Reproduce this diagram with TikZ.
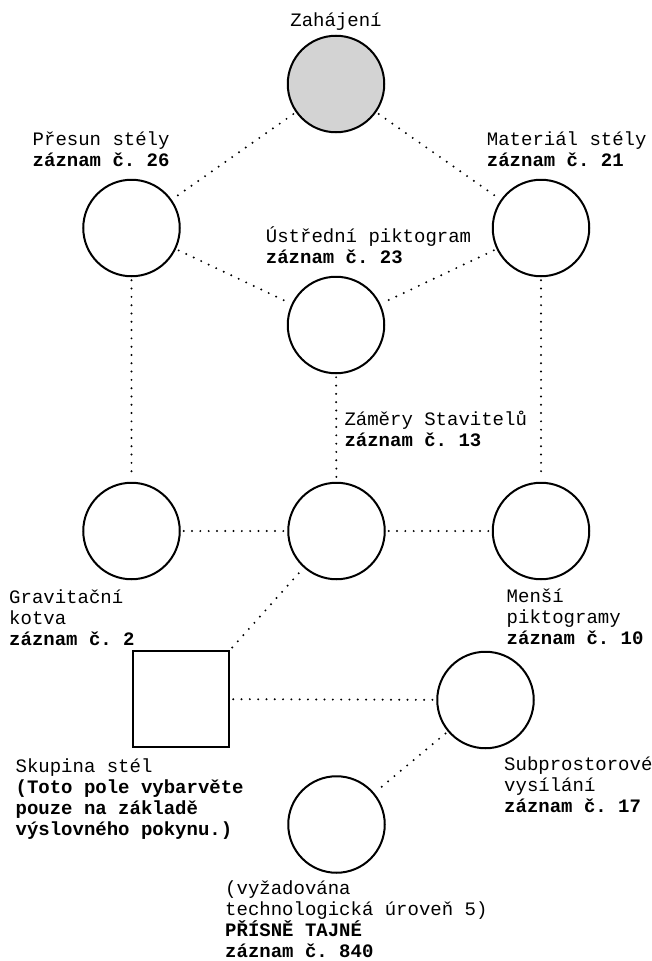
\documentclass[tikz,border=0pt]{standalone}
\usepackage{fontspec}
\setmonofont{Liberation Mono}
\definecolor{startgray}{RGB}{211,211,211}

\begin{document}
\begin{tikzpicture}[x=1pt, y=-1pt,
roundnode/.style={circle, draw=black, line width=2pt, minimum size=96.5pt, inner sep=0pt},
squarednode/.style={rectangle, draw=black, line width=2pt, minimum size=96.5pt, inner sep=0pt},
textnode/.style={anchor=base west, align=left, inner sep=0pt, font=\ttfamily\fontsize{19}{21}\selectfont},
dotline/.style={line width=2.2pt, line cap=round, dash pattern=on 0pt off 8.3pt, shorten <=3pt, shorten >=3pt},
]
\useasboundingbox (0,0) rectangle (652,961);

%Nodes
\node[roundnode, fill=startgray] (start) at (336,84) {};
\node[roundnode] (presun) at (131.5,228) {};
\node[roundnode] (material) at (541,228) {};
\node[roundnode] (ustredni) at (336,325) {};
\node[roundnode] (gravitacni) at (131.5,531) {};
\node[roundnode] (zamery) at (336.5,531) {};
\node[roundnode] (mensi) at (541,531) {};
\node[squarednode] (skupina) at (181,699) {};
\node[roundnode] (subprostor) at (485.5,700) {};
\node[roundnode] (tajne) at (336.5,824.5) {};

%Labels (base = last line)
\node[textnode, anchor=base] (startlabel) at (336,26.7) {Zahájení};
\node[textnode] (presunlabel) at (32.5,166) {Přesun stély\\\textbf{záznam č. 26}};
\node[textnode] (materiallabel) at (486.7,166) {Materiál stély\\\textbf{záznam č. 21}};
\node[textnode] (ustrednilabel) at (265.7,263.3) {Ústřední piktogram\\\textbf{záznam č. 23}};
\node[textnode] (zamerylabel) at (344.3,446.7) {Záměry Stavitelů\\\textbf{záznam č. 13}};
\node[textnode] (gravitacnilabel) at (9,645) {Gravitační\\kotva\\\textbf{záznam č. 2}};
\node[textnode] (mensilabel) at (506.5,644) {Menší\\piktogramy\\\textbf{záznam č. 10}};
\node[textnode] (skupinalabel) at (15.4,835) {Skupina stél\\\textbf{(Toto pole vybarvěte}\\\textbf{pouze na základě}\\\textbf{výslovného pokynu.)}};
\node[textnode] (subprostorlabel) at (504,812) {Subprostorové\\vysílání\\\textbf{záznam č. 17}};
\node[textnode] (tajnelabel) at (225,957) {(vyžadována\\technologická úroveň 5)\\\textbf{PŘÍSNĚ TAJNÉ}\\\textbf{záznam č. 840}};

%Lines
\draw[dotline] (start) -- (presun);
\draw[dotline] (start) -- (material);
\draw[dotline] (presun) -- (ustredni);
\draw[dotline] (material) -- (ustredni);
\draw[dotline] (presun) -- (gravitacni);
\draw[dotline] (ustredni) -- (zamery);
\draw[dotline] (material) -- (mensi);
\draw[dotline] (gravitacni) -- (zamery);
\draw[dotline] (zamery) -- (mensi);
\draw[dotline] (skupina.north east) -- (zamery);
\draw[dotline] (skupina) -- (subprostor);
\draw[dotline] (subprostor) -- (tajne);
\end{tikzpicture}
\end{document}
